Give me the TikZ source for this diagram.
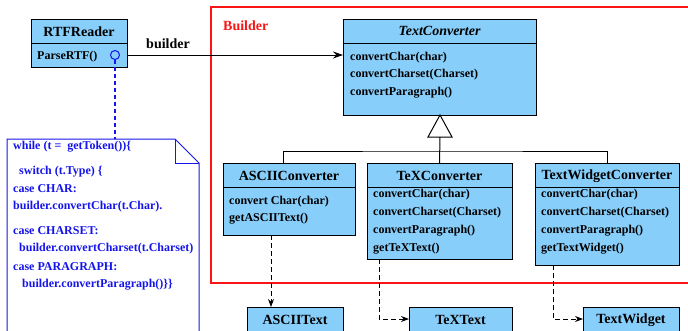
\documentclass[tikz,border=0pt]{standalone}
\usepackage{fontspec}
\setmainfont{Liberation Serif}
\usetikzlibrary{arrows.meta}
\definecolor{boxblue}{RGB}{135,206,250}
\definecolor{noteblue}{RGB}{20,20,235}
\definecolor{bred}{RGB}{250,20,20}
\begin{document}
\begin{tikzpicture}[x=1pt,y=-1pt,
 classbox/.style={draw=black, line width=1pt, fill=boxblue, anchor=north west, inner sep=0pt, outer sep=0pt},
 hdr/.style={font=\fontsize{14}{16}\selectfont\bfseries, inner sep=0pt},
 mth/.style={font=\fontsize{12}{14}\selectfont\bfseries, anchor=west, inner sep=0pt},
 notetxt/.style={font=\fontsize{12}{14}\selectfont\bfseries, anchor=west, inner sep=0pt, text=noteblue},
 dep/.style={dash pattern=on 5pt off 3pt, -{Stealth[length=8pt,width=6pt]}, line width=0.9pt},
 divline/.style={line width=1pt},
 ]
\useasboundingbox (0,0) rectangle (688,330);
\clip (0,0) rectangle (688,330);

% Builder frame
\draw[draw=bred, line width=1.1pt] (211,7) rectangle (700,283);
\node[hdr, text=bred, anchor=west] (blabel) at (223,26) {Builder};

% RTFReader
\node[classbox, minimum width=96pt, minimum height=48pt] (rtf) at (31,19) {};
\draw[divline] (rtf.west |- 0,43) -- (rtf.east |- 0,43);
\node[hdr] (rtfh) at (79,32) {RTFReader};
\node[mth] (rtfm) at (37,57) {ParseRTF()};
\draw[draw=noteblue, line width=1pt] (115,55) circle (4.5pt);
\coordinate (lol) at (115,59.5);

% TextConverter
\node[classbox, minimum width=193pt, minimum height=96pt] (tc) at (343,19) {};
\draw[divline] (tc.west |- 0,43) -- (tc.east |- 0,43);
\node[hdr] (tch) at (439.5,31) {\itshape TextConverter};
\node[mth] (tcm1) at (350,58) {convertChar(char)};
\node[mth] (tcm2) at (350,75) {convertCharset(Charset)};
\node[mth] (tcm3) at (350,93) {convertParagraph()};

% ASCIIConverter
\node[classbox, minimum width=132pt, minimum height=72pt] (ac) at (223,163) {};
\draw[divline] (ac.west |- 0,187) -- (ac.east |- 0,187);
\node[hdr] (ach) at (289,176) {ASCIIConverter};
\node[mth] (acm1) at (229,202) {convert Char(char)};
\node[mth] (acm2) at (229,219) {getASCIIText()};

% TeXConverter
\node[classbox, minimum width=145pt, minimum height=96pt] (tx) at (367,163) {};
\draw[divline] (tx.west |- 0,187) -- (tx.east |- 0,187);
\node[hdr] (txh) at (439.5,176) {TeXConverter};
\node[mth] (txm1) at (373,195) {convertChar(char)};
\node[mth] (txm2) at (373,213) {convertCharset(Charset)};
\node[mth] (txm3) at (373,231) {convertParagraph()};
\node[mth] (txm4) at (373,249) {getTeXText()};

% TextWidgetConverter
\node[classbox, minimum width=144pt, minimum height=102pt] (tw) at (535,163) {};
\draw[divline] (tw.west |- 0,187) -- (tw.east |- 0,187);
\node[hdr] (twh) at (607,176) {TextWidgetConverter};
\node[mth] (twm1) at (541,195) {convertChar(char)};
\node[mth] (twm2) at (541,213) {convertCharset(Charset)};
\node[mth] (twm3) at (541,231) {convertParagraph()};
\node[mth] (twm4) at (541,249) {getTextWidget()};

% products
\node[classbox, minimum width=96pt, minimum height=40pt] (at) at (247,307) {};
\node[hdr] (ath) at (295,320) {ASCIIText};
\node[classbox, minimum width=103pt, minimum height=40pt] (tt) at (409,307) {};
\node[hdr] (tth) at (460.5,320) {TeXText};
\node[classbox, minimum width=96pt, minimum height=40pt] (twd) at (583,307) {};
\node[hdr] (twdh) at (631,320) {TextWidget};

% builder association
\node[hdr] (bld) at (168,44) {builder};
\draw[line width=1pt, -{Stealth[length=10pt,width=7pt]}] (rtf.east |- 0,55) -- (tc.west |- 0,55);

% inheritance
\coordinate (tri) at (440,137);
\coordinate (junc) at (440,151);
\draw[line width=1pt, fill=white] (440,115) -- (428,137) -- (452,137) -- cycle;
\draw[line width=1pt] (tri) -- (tx.north);
\draw[line width=1pt] (283,163) |- (junc) -| (tw.north);

% dependencies
\draw[dep] (271,235) -- (at.north -| 271,0);
\draw[dep] (379,259) |- (tt.west |- 0,319);
\draw[dep] (553,265) |- (twd.west |- 0,319);

% note
\coordinate (nt) at (115,139);
\draw[draw=noteblue, line width=1pt] (7,345) -- (7,139) -- (175,139) -- (199,163) -- (199,345);
\draw[draw=noteblue, line width=1pt] (175,139) -- (175,163) -- (199,163);
\draw[draw=noteblue, line width=1.2pt, dash pattern=on 4pt off 3pt] (lol) -- (nt);
\node[notetxt] (n1) at (13,147) {while (t =\ \ getToken())\{};
\node[notetxt] (n2) at (19,172) {switch (t.Type) \{};
\node[notetxt] (n3) at (13,189) {case CHAR:};
\node[notetxt] (n4) at (13,207) {builder.convertChar(t.Char).};
\node[notetxt] (n5) at (13,231) {case CHARSET:};
\node[notetxt] (n6) at (19,249) {builder.convertCharset(t.Charset)};
\node[notetxt] (n7) at (13,267) {case PARAGRAPH:};
\node[notetxt] (n8) at (22,285) {builder.convertParagraph()\}\}};
\end{tikzpicture}
\end{document}
